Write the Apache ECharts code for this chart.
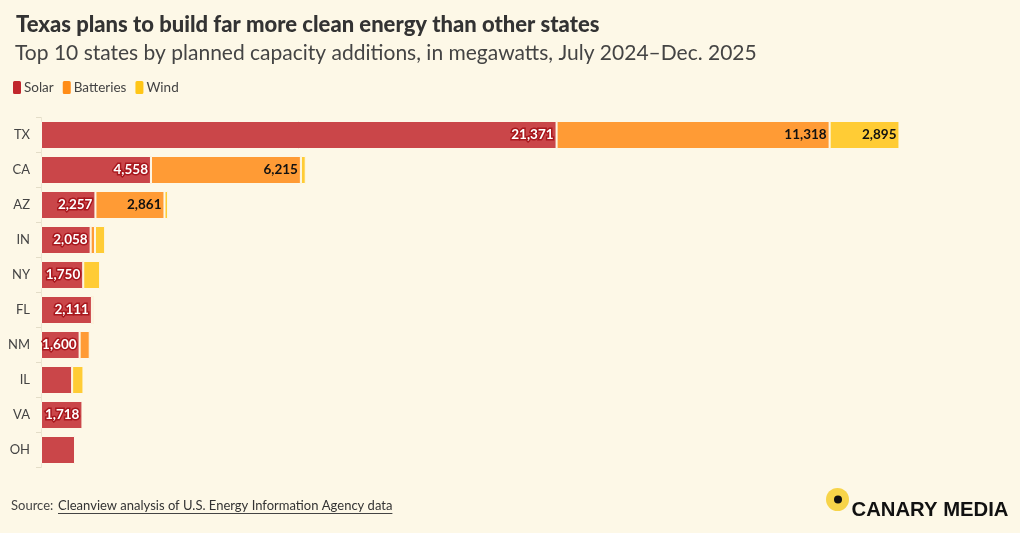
<!DOCTYPE html>
<html><head><meta charset="utf-8">
<script src="https://cdn.jsdelivr.net/npm/echarts@6/dist/echarts.min.js"></script>
<style>html,body{margin:0;background:#fdf8e7}#c{width:1020px;height:533px}</style>
</head><body><div id="c"></div>
<script>
const states = ['TX','CA','AZ','IN','NY','FL','NM','IL','VA','OH'];
const solar = [21371,4558,2257,2058,1750,2111,1600,1290,1718,1410];
const batteries = [11318,6215,2861,180,0,90,420,0,0,0];
const wind = [2895,200,150,420,700,0,0,470,0,0];
const seriesNames = ['Solar','Batteries','Wind'];
const titleText = 'Texas plans to build far more clean energy than other states';
const subtitleText = 'Top 10 states by planned capacity additions, in megawatts, July 2024\u2013Dec. 2025';
const sourceLabel = 'Source: ';
const sourceLink = 'Cleanview analysis of U.S. Energy Information Agency data';
const logoText = 'CANARY MEDIA';

const FONT = 'Lato';
const chart = echarts.init(document.getElementById('c'));
const fmt = v => v.toLocaleString('en-US');
function mkSeries(name, data, color, labelStyle) {
  return {
    name, type: 'bar', stack: 'total', barWidth: 28,
    data: data.map(v => v || null),
    itemStyle: { color, borderColor: '#fdf8e7', borderWidth: 1 },
    label: Object.assign({
      show: true, position: 'insideRight', distance: 3,
      fontFamily: FONT, fontWeight: 'bold', fontSize: 13.5,
      formatter: p => (p.value >= 1500 ? fmt(p.value) : '')
    }, labelStyle),
    emphasis: { disabled: true }
  };
}
const cv = document.createElement('canvas').getContext('2d');
cv.font = '13px Lato';
const linkW = cv.measureText(sourceLink).width;
cv.font = 'bold 20px "Liberation Sans"';
const logoScale = 157 / cv.measureText(logoText).width;
chart.setOption({
  backgroundColor: '#fdf8e7',
  animation: false,
  textStyle: { fontFamily: FONT },
  title: [
    { text: titleText, left: 11, top: 9, textStyle: { fontFamily: FONT, fontSize: 22, fontWeight: 900, color: '#333' } },
    { text: subtitleText, left: 10, top: 38, textStyle: { fontFamily: FONT, fontSize: 21, fontWeight: 'normal', color: '#444' } }
  ],
  legend: {
    left: 11, top: 79, padding: 0, icon: 'roundRect', itemWidth: 10, itemHeight: 15, itemGap: 7,
    textStyle: { fontFamily: FONT, fontSize: 13.5, color: '#444', padding: [0, 0, 0, -3] },
    data: [
      { name: seriesNames[0], itemStyle: { color: '#c1272d' } },
      { name: seriesNames[1], itemStyle: { color: '#ff8c17' } },
      { name: seriesNames[2], itemStyle: { color: '#ffc617' } }
    ],
    selectedMode: false
  },
  grid: { left: 41, right: 14, top: 117.5, bottom: 65.5, containLabel: false },
  xAxis: { type: 'value', min: 0, max: 40000, show: false },
  yAxis: {
    type: 'category', data: states, inverse: true,
    axisLine: { show: true, lineStyle: { color: '#ece6d2' } },
    axisTick: { show: true, length: 5, lineStyle: { color: '#e3ddc8' } },
    axisLabel: { fontFamily: FONT, fontSize: 13, color: '#444', margin: 11 }
  },
  series: [
    mkSeries(seriesNames[0], solar, '#ca4649', { color: '#fff', textBorderColor: '#a8171d', textBorderWidth: 3 }),
    mkSeries(seriesNames[1], batteries, '#ff9b35', { color: '#111' }),
    mkSeries(seriesNames[2], wind, '#ffcc35', { color: '#111' })
  ],
  graphic: [
    { type: 'text', left: 11, top: 499, style: { text: sourceLabel, fontFamily: FONT, fontSize: 13, fill: '#444' } },
    { type: 'text', left: 58, top: 499, style: { text: sourceLink, fontFamily: FONT, fontSize: 13, fill: '#333' } },
    { type: 'line', shape: { x1: 58, y1: 513.5, x2: 58 + linkW, y2: 513.5 }, style: { stroke: '#444', lineWidth: 1 } },
    { type: 'circle', shape: { cx: 837.5, cy: 499.5, r: 11.5 }, style: { fill: '#f7d449' } },
    { type: 'circle', shape: { cx: 838, cy: 499.5, r: 4 }, style: { fill: '#111' } },
    { type: 'text', x: 851.5, y: 510, scaleX: logoScale, style: { text: logoText, fontFamily: 'Liberation Sans', fontSize: 20, fontWeight: 'bold', fill: '#111', verticalAlign: 'middle' } }
  ]
});
</script></body></html>
